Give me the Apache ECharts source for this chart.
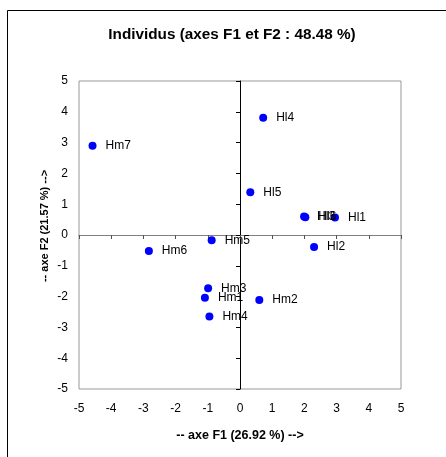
<!DOCTYPE html>
<html>
<head>
<meta charset="utf-8">
<script src="https://cdn.jsdelivr.net/npm/echarts@6/dist/echarts.min.js"></script>
<style>
html,body{margin:0;padding:0;background:#fff;}
#main{width:446px;height:457px;}
</style>
</head>
<body>
<div id="main"></div>
<script>
const names = ['Hl1','Hl2','Hl3','Hl4','Hl5','Hl6','Hm1','Hm2','Hm3','Hm4','Hm5','Hm6','Hm7'];
const f1 = [2.95, 2.30, 1.99, 0.72, 0.32, 2.03, -1.09, 0.60, -0.99, -0.95, -0.88, -2.83, -4.58];
const f2 = [0.57, -0.39, 0.60, 3.81, 1.39, 0.58, -2.04, -2.11, -1.73, -2.65, -0.17, -0.52, 2.90];
const ticks = [-5,-4,-3,-2,-1,0,1,2,3,4,5];
const titleText = 'Individus (axes F1 et F2 : 48.48 %)';
const xName = '-- axe F1 (26.92 %) -->';
const yName = '-- axe F2 (21.57 %) -->';

const font = '"Liberation Sans", Arial, sans-serif';
const chart = echarts.init(document.getElementById('main'));
const data = names.map((n, i) => ({name: n, value: [f1[i], f2[i]]}));
chart.setOption({
  animation: false,
  backgroundColor: '#fff',
  grid: {left: 79, right: 45, top: 81, bottom: 68, show: true, borderColor: '#999', borderWidth: 1, backgroundColor: 'transparent'},
  xAxis: [
    {type: 'value', min: ticks[0], max: ticks[ticks.length-1], interval: 1,
     axisLine: {show: false, onZero: false}, axisTick: {show: false}, splitLine: {show: false},
     axisLabel: {fontFamily: font, fontSize: 12, color: '#000', margin: 14}},
    {type: 'value', min: -5, max: 5, interval: 1, position: 'bottom',
     axisLine: {show: true, onZero: true, onZeroAxisIndex: 1, lineStyle: {color: '#808080', width: 1}},
     axisTick: {show: true, length: 4, inside: false, lineStyle: {color: '#555'}},
     axisLabel: {show: false}, splitLine: {show: false}}
  ],
  yAxis: [
    {type: 'value', min: ticks[0], max: ticks[ticks.length-1], interval: 1,
     axisLine: {show: false, onZero: false}, axisTick: {show: false}, splitLine: {show: false},
     axisLabel: {fontFamily: font, fontSize: 12, color: '#000', margin: 11}},
    {type: 'value', min: -5, max: 5, interval: 1, position: 'left',
     axisLine: {show: true, onZero: true, onZeroAxisIndex: 1, lineStyle: {color: '#000', width: 1}},
     axisTick: {show: true, length: 4, inside: false, lineStyle: {color: '#000'}},
     axisLabel: {show: false}, splitLine: {show: false}}
  ],
  graphic: [
    {type: 'rect', shape: {x: 7.5, y: 10.5, width: 600, height: 600}, style: {fill: 'none', stroke: '#000', lineWidth: 1}, z: 0, silent: true},
    {type: 'text', x: 232, y: 35, style: {text: titleText, font: 'bold 15.3px ' + font, fill: '#000', textAlign: 'center', textVerticalAlign: 'middle'}},
    {type: 'text', x: 240, y: 436, style: {text: xName, font: 'bold 12.5px ' + font, fill: '#000', textAlign: 'center', textVerticalAlign: 'middle'}},
    {type: 'text', x: 45, y: 226, rotation: Math.PI/2, style: {text: yName, font: 'bold 11px ' + font, fill: '#000', textAlign: 'center', textVerticalAlign: 'middle'}}
  ],
  series: [{
    type: 'scatter', xAxisIndex: 0, yAxisIndex: 0, symbolSize: 8,
    itemStyle: {color: '#0000FF', opacity: 1},
    label: {show: true, position: 'right', distance: 9, formatter: '{b}', fontFamily: font, fontSize: 12, color: '#000'},
    data: data, z: 5
  }]
});
</script>
</body>
</html>
